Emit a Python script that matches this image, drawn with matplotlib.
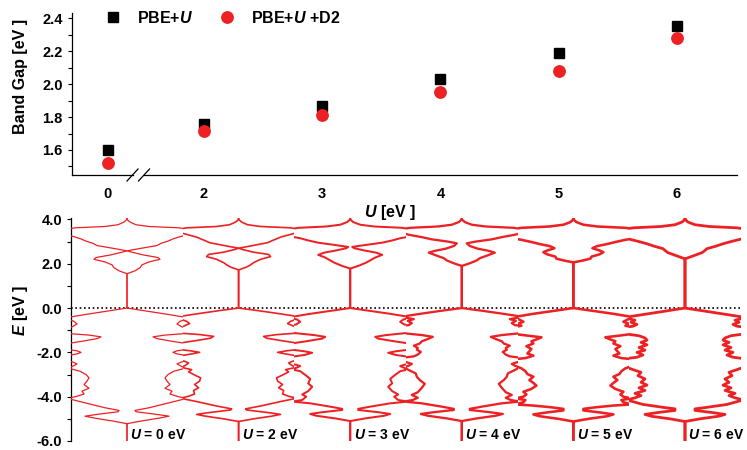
import matplotlib
matplotlib.use('Agg')
import matplotlib.pyplot as plt
from matplotlib.ticker import MultipleLocator, FixedLocator, NullLocator

plt.rcParams['font.family'] = ['Liberation Sans', 'DejaVu Sans']
plt.rcParams['font.weight'] = 'bold'
plt.rcParams['mathtext.fontset'] = 'custom'
plt.rcParams['mathtext.it'] = 'Liberation Sans:italic:bold'
plt.rcParams['mathtext.rm'] = 'Liberation Sans:bold'
plt.rcParams['mathtext.bf'] = 'Liberation Sans:bold'

RED = '#ed2024'

# ---------------- band gap vs U ----------------
u_values = [0, 2, 3, 4, 5, 6]
gap_pbe_u = [1.60, 1.76, 1.87, 2.03, 2.19, 2.35]
gap_pbe_u_d2 = [1.52, 1.715, 1.81, 1.95, 2.08, 2.28]

# ---------------- mirrored DOS profiles (energy in eV, DOS in arb. units) ----------------
e_u0 = [-6.0, -5.22, -5.1, -4.97, -4.88, -4.8, -4.68, -4.62, -4.5, -4.3, -4.12, -4.07,
        -3.98, -3.88, -3.75, -3.62, -3.45, -3.3, -3.15, -3.0, -2.85, -2.72, -2.62, -2.52,
        -2.44, -2.36, -2.16, -2.07, -2.0, -1.93, -1.85, -1.62, -1.5, -1.38, -1.3, -1.22,
        -1.14, -0.92, -0.85, -0.72, -0.6, -0.48, -0.4, -0.28, -0.14, 0.0,
        1.55, 1.68, 1.82, 1.95, 2.08, 2.2, 2.28, 2.4, 2.52, 2.58, 2.68, 2.82, 2.92, 3.02,
        3.12, 3.22, 3.32, 3.55, 3.62, 3.68, 3.76, 3.88, 4.0, 4.2]
dos_u0 = [0, 0, 14, 32, 42, 30, 9, 8, 22, 40, 56, 58,
          50, 43, 45, 38, 43, 40, 38, 41, 47, 58, 54, 50,
          54, 62, 62, 50, 46, 50, 62, 62, 45, 30, 26, 38,
          62, 62, 55, 50, 53, 60, 56, 40, 20, 0,
          0, 8, 13, 15, 22, 33, 31, 16, 5, 0, 12, 30, 34, 41,
          46, 53, 62, 62, 52, 22, 9, 3, 0, 0]

e_u2 = [-6.0, -5.12, -5.0, -4.88, -4.8, -4.72, -4.6, -4.55, -4.42, -4.22, -4.07,
        -3.98, -3.88, -3.72, -3.6, -3.45, -3.3, -3.15, -3.0, -2.88, -2.78, -2.68, -2.58,
        -2.48, -2.4, -2.32, -2.18, -2.08, -2.0, -1.93, -1.86, -1.6, -1.48, -1.36, -1.28,
        -1.2, -1.12, -0.9, -0.82, -0.7, -0.6, -0.5, -0.42, -0.36, -0.25, -0.12, 0.0,
        1.72, 1.85, 1.95, 2.05, 2.2, 2.32, 2.42, 2.52, 2.64, 2.7, 2.8, 2.95, 3.05, 3.2,
        3.3, 3.42, 3.55, 3.62, 3.68, 3.76, 3.88, 4.0, 4.2]
dos_u2 = [0, 0, 15, 33, 42, 30, 8, 7, 22, 42, 58,
          50, 44, 45, 40, 44, 39, 38, 45, 50, 47, 57, 53,
          50, 54, 62, 62, 48, 39, 48, 62, 62, 44, 28, 25,
          38, 62, 62, 55, 49, 52, 58, 60, 56, 40, 20, 0,
          0, 8, 12, 15, 22, 32, 30, 15, 4, 0, 12, 29, 34, 42,
          50, 60, 62, 52, 22, 9, 3, 0, 0]

e_u3 = [-6.0, -5.1, -4.98, -4.86, -4.78, -4.7, -4.6, -4.55, -4.45, -4.3, -4.22,
        -4.15, -4.0, -3.9, -3.75, -3.55, -3.4, -3.2, -3.05, -2.95, -2.85, -2.77, -2.7,
        -2.62, -2.56, -2.5, -2.22, -2.12, -2.02, -1.95, -1.86, -1.62, -1.5, -1.38, -1.3,
        -1.22, -1.1, -0.8, -0.74, -0.62, -0.52, -0.44, -0.38, -0.26, -0.13, 0.0,
        1.78, 1.9, 2.05, 2.15, 2.28, 2.4, 2.5, 2.6, 2.7, 2.76, 2.85, 2.95, 3.05, 3.15,
        3.25, 3.55, 3.62, 3.68, 3.76, 3.88, 4.0, 4.2]
dos_u3 = [0, 0, 15, 34, 40, 28, 8, 8, 20, 40, 58,
          48, 44, 48, 42, 38, 42, 40, 44, 47, 50, 58, 54,
          50, 54, 62, 62, 46, 38, 46, 62, 62, 44, 28, 25,
          36, 62, 62, 54, 50, 53, 60, 56, 40, 20, 0,
          0, 8, 16, 20, 25, 32, 26, 14, 4, 2, 16, 32, 42, 50,
          62, 62, 52, 24, 10, 3, 0, 0]

e_u4 = [-6.0, -5.1, -4.98, -4.86, -4.78, -4.7, -4.6, -4.55, -4.45, -4.3, -4.22,
        -4.15, -4.05, -3.92, -3.8, -3.6, -3.42, -3.25, -3.1, -2.95, -2.82, -2.68, -2.6,
        -2.52, -2.45, -2.38, -2.26, -2.18, -2.1, -1.98, -1.88, -1.8, -1.7, -1.6, -1.5,
        -1.4, -1.3, -1.22, -1.12, -0.82, -0.77, -0.68, -0.58, -0.5, -0.42, -0.36, -0.25,
        -0.12, 0.0,
        1.9, 2.02, 2.15, 2.25, 2.38, 2.5, 2.58, 2.68, 2.8, 2.92, 3.0, 3.1, 3.2, 3.3,
        3.4, 3.55, 3.62, 3.68, 3.76, 3.88, 4.0, 4.2]
dos_u4 = [0, 0, 15, 34, 41, 28, 8, 8, 20, 40, 58,
          49, 44, 50, 44, 40, 37, 42, 45, 46, 52, 58, 53,
          50, 55, 62, 62, 48, 44, 41, 45, 44, 48, 42, 40,
          34, 29, 40, 62, 62, 53, 50, 54, 48, 58, 56, 40,
          20, 0,
          0, 8, 15, 18, 26, 33, 27, 16, 8, 5, 14, 30, 40, 52,
          62, 62, 52, 24, 10, 3, 0, 0]

e_u5 = [-6.0, -5.12, -5.0, -4.88, -4.8, -4.72, -4.62, -4.55, -4.48, -4.4, -4.35,
        -4.25, -4.15, -4.08, -4.0, -3.9, -3.78, -3.65, -3.5, -3.38, -3.25, -3.1, -2.98,
        -2.85, -2.72, -2.62, -2.5, -2.32, -2.26, -2.15, -2.05, -1.95, -1.85, -1.72, -1.6,
        -1.5, -1.4, -1.32, -1.25, -1.15, -0.88, -0.8, -0.72, -0.62, -0.52, -0.44, -0.38,
        -0.26, -0.13, 0.0,
        2.06, 2.15, 2.23, 2.32, 2.42, 2.52, 2.6, 2.7, 2.8, 2.88, 2.98, 3.08, 3.15,
        3.55, 3.62, 3.68, 3.76, 3.88, 4.0, 4.2]
dos_u5 = [0, 0, 15, 34, 40, 28, 10, 10, 22, 40, 58,
          50, 48, 58, 50, 47, 50, 42, 37, 40, 44, 40, 46,
          48, 52, 58, 62, 62, 48, 40, 46, 44, 42, 47, 40,
          42, 36, 32, 45, 62, 62, 52, 56, 50, 54, 60, 56,
          40, 20, 0,
          0, 10, 17, 18, 26, 30, 26, 19, 24, 33, 42, 52, 62,
          62, 52, 24, 10, 3, 0, 0]

e_u6 = [-6.0, -5.12, -5.0, -4.88, -4.8, -4.72, -4.62, -4.55, -4.48, -4.35, -4.15,
        -4.05, -3.95, -3.85, -3.72, -3.6, -3.48, -3.35, -3.2, -3.05, -2.9, -2.78, -2.68,
        -2.5, -2.3, -2.22, -2.12, -2.0, -1.9, -1.78, -1.66, -1.55, -1.45, -1.35, -1.25,
        -1.15, -0.88, -0.82, -0.74, -0.64, -0.55, -0.46, -0.4, -0.28, -0.14, 0.0,
        2.22, 2.35, 2.5, 2.6, 2.68, 2.78, 2.9, 3.0, 3.1, 3.2,
        3.55, 3.62, 3.68, 3.76, 3.88, 4.0, 4.2]
dos_u6 = [0, 0, 15, 34, 40, 28, 10, 10, 22, 42, 58,
          50, 44, 50, 40, 46, 38, 44, 40, 47, 44, 52, 58,
          62, 62, 48, 42, 48, 40, 46, 38, 44, 38, 40, 46,
          62, 62, 52, 48, 54, 50, 58, 57, 40, 20, 0,
          0, 8, 17, 20, 22, 30, 38, 46, 55, 62,
          62, 52, 24, 10, 3, 0, 0]

dos_energies = [e_u0, e_u2, e_u3, e_u4, e_u5, e_u6]
dos_profiles = [dos_u0, dos_u2, dos_u3, dos_u4, dos_u5, dos_u6]
line_widths = [0.9, 1.2, 1.45, 1.65, 1.85, 2.0]

W = 55.8  # half width of each DOS panel

fig = plt.figure(figsize=(7.47, 4.5), dpi=100)
FW, FH = 747.0, 450.0

# ---------------- top panel ----------------
ax = fig.add_axes([72 / FW, (FH - 175) / FH, 665 / FW, (175 - 13.3) / FH])
gap_width = 0.812


def axis_pos(u):
    return u if u >= 2 else 2 - gap_width


xpos = [axis_pos(u) for u in u_values]
ax.plot(xpos, gap_pbe_u, 's', color='black', markersize=7.3, linestyle='none',
        label=r'PBE+$\mathit{U}$')
ax.plot(xpos, gap_pbe_u_d2, 'o', color=RED, markersize=8.2, linestyle='none',
        label=r'PBE+$\mathit{U}$ +D2')
ax.set_xlim(2 - 132 / 118.25, 6 + 60 / 118.25)
ax.set_ylim(1.448, 2.43)
ax.set_xticks(xpos)
ax.set_xticklabels([str(u) for u in u_values])
ax.yaxis.set_major_locator(MultipleLocator(0.2))
ax.yaxis.set_minor_locator(MultipleLocator(0.1))
ax.yaxis.set_major_formatter(matplotlib.ticker.FormatStrFormatter('%.1f'))
ax.tick_params(axis='x', length=0, pad=9, labelsize=10.5)
ax.tick_params(axis='y', which='both', direction='out', length=3.2, width=0.8,
               labelsize=10.5, pad=3.5)
for s in ['top', 'right', 'bottom']:
    ax.spines[s].set_visible(False)
ax.spines['left'].set_linewidth(0.9)

# broken x axis
b1, b2 = (132.5 - 72) / 665, (144 - 72) / 665
ax.plot([0, b1], [0, 0], transform=ax.transAxes, color='black', lw=0.9, clip_on=False)
ax.plot([b2, 1], [0, 0], transform=ax.transAxes, color='black', lw=0.9, clip_on=False)
dx, dy = 5.5 / 665, 6 / 161.7
for b in (b1, b2):
    ax.plot([b - dx, b + dx], [-dy, dy], transform=ax.transAxes, color='black',
            lw=0.9, clip_on=False)

ax.set_ylabel('Band Gap [eV ]', fontsize=11.5, fontweight='bold')
ax.yaxis.set_label_coords(-0.066, 0.61)
ax.set_xlabel(r'$\mathit{U}$ [eV ]', fontsize=11.5, fontweight='bold')
ax.xaxis.set_label_coords((390 - 72) / 665, -(203 - 175) / 161.7)

leg = ax.legend(loc='center left', bbox_to_anchor=((105 - 72) / 665, (175 - 18) / 161.7),
                ncol=2, frameon=False, fontsize=11.5, handlelength=1.0,
                handletextpad=1.0, columnspacing=1.6, borderpad=0, borderaxespad=0)

# ---------------- bottom panel ----------------
bot_left = 71.2 / FW
bot_bottom = (FH - 441) / FH
bot_height = (441 - 218.3) / FH
ax_e = fig.add_axes([bot_left, bot_bottom, 6 * 2 * W / FW, bot_height])
ax_e.set_xlim(0, 1)
ax_e.set_ylim(-6.0, 4.05)
ax_e.axhline(0, color='black', lw=1.2, linestyle=(0, (1, 1.6)), zorder=1)
ax_e.xaxis.set_major_locator(NullLocator())
ax_e.yaxis.set_major_locator(FixedLocator([4, 2, 0, -2, -4, -6]))
ax_e.yaxis.set_minor_locator(FixedLocator([3, 1, -1, -3, -5]))
ax_e.yaxis.set_major_formatter(matplotlib.ticker.FormatStrFormatter('%.1f'))
ax_e.tick_params(axis='y', which='both', direction='out', length=3.2, width=0.8,
                 labelsize=10.5, pad=3.5)
for s in ['top', 'right', 'bottom']:
    ax_e.spines[s].set_visible(False)
ax_e.spines['left'].set_linewidth(0.9)
ax_e.set_ylabel(r'$\mathit{E}$ [eV ]', fontsize=11.5, fontweight='bold')
ax_e.yaxis.set_label_coords(-0.062, 0.584)
ax_e.patch.set_alpha(0)

for i, (u, ee, dd, lw) in enumerate(zip(u_values, dos_energies, dos_profiles, line_widths)):
    axp = fig.add_axes([bot_left + i * 2 * W / FW, bot_bottom, 2 * W / FW, bot_height])
    axp.set_xlim(-W, W)
    axp.set_ylim(-6.0, 4.05)
    axp.axis('off')
    axp.plot(dd, ee, color=RED, lw=lw, solid_joinstyle='round', zorder=3)
    axp.plot([-d for d in dd], ee, color=RED, lw=lw, solid_joinstyle='round', zorder=3)
    axp.text(3.5, -5.72, r'$\mathit{U}$ = %d eV' % u, ha='left', va='center',
             fontsize=10, fontweight='bold', clip_on=False)

fig.savefig('out.png', dpi=100)
